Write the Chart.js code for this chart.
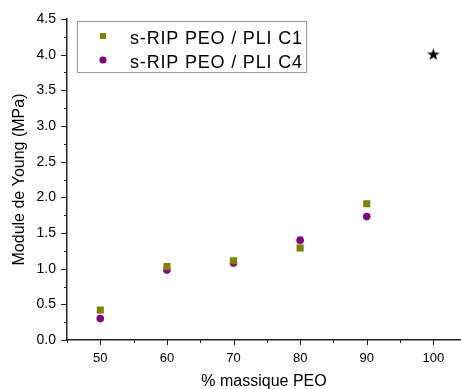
<!DOCTYPE html>
<html>
<head>
<meta charset="utf-8">
<script src="https://cdn.jsdelivr.net/npm/chart.js@4/dist/chart.umd.min.js"></script>
<style>
  html, body { margin: 0; padding: 0; background: #fff; }
  #wrap { width: 461px; height: 389px; }
</style>
</head>
<body>
<div id="wrap"><canvas id="graphique" width="461" height="389"></canvas></div>
<script>
// valeurs
const massiquePEO = [50, 60, 70, 80, 90];
const moduleC1 = [0.42, 1.03, 1.11, 1.29, 1.91];
const moduleC4 = [0.30, 0.98, 1.08, 1.40, 1.73];
const peoPurX = [100];
const peoPurY = [4.0];
const xTicks = [50, 60, 70, 80, 90, 100];
const yTicks = [0, 0.5, 1, 1.5, 2, 2.5, 3, 3.5, 4, 4.5];

const AXE = "#222";

function etoile(taille) {
    const c = document.createElement("canvas");
    c.width = taille;
    c.height = taille;
    const g = c.getContext("2d");
    const r1 = taille / 2, r2 = r1 * 0.4;
    g.beginPath();
    for (let i = 0; i < 10; i++) {
        const r = i % 2 ? r2 : r1;
        const a = -Math.PI / 2 + (i * Math.PI) / 5;
        g.lineTo(r1 + r * Math.cos(a), r1 + r * Math.sin(a));
    }
    g.closePath();
    g.fillStyle = "#000";
    g.fill();
    return c;
}

function pts(xs, ys) {
    return xs.map((x, i) => ({ x, y: ys[i] }));
}

// graduations majeures / mineures
const graduations = {
    id: "graduations",
    afterDraw(chart) {
        const { ctx, chartArea, scales } = chart;
        ctx.save();
        ctx.strokeStyle = AXE;
        ctx.lineWidth = 1;
        for (let v = 0; v <= 4.5 + 1e-9; v += 0.25) {
            const y = Math.round(scales.y.getPixelForValue(v)) + 0.5;
            const major = Math.abs(v * 2 - Math.round(v * 2)) < 1e-6;
            ctx.beginPath();
            ctx.moveTo(chartArea.left, y);
            ctx.lineTo(chartArea.left - (major ? 6 : 3), y);
            ctx.stroke();
        }
        for (let v = 45; v <= 104; v += 5) {
            const x = Math.round(scales.x.getPixelForValue(v)) + 0.5;
            const major = v % 10 === 0;
            ctx.beginPath();
            ctx.moveTo(x, chartArea.bottom);
            ctx.lineTo(x, chartArea.bottom + (major ? 5 : 3));
            ctx.stroke();
        }
        ctx.restore();
    },
};

// légende encadrée dans le graphique
const legende = {
    id: "legende",
    afterDraw(chart) {
        const { ctx } = chart;
        const ds = chart.data.datasets;
        ctx.save();
        ctx.strokeStyle = "#999";
        ctx.lineWidth = 1;
        ctx.strokeRect(77.5, 21.5, 229, 51);
        ctx.font = "18px 'Liberation Sans', Arial, sans-serif";
        ctx.fillStyle = "#000";
        ctx.textBaseline = "alphabetic";
        const lignes = [36, 60];
        [0, 1].forEach((i) => {
            const d = ds[i];
            const y = lignes[i];
            ctx.fillStyle = d.backgroundColor;
            if (d.pointStyle === "rect") {
                ctx.fillRect(100, y - 3, 6, 6);
            } else {
                ctx.beginPath();
                ctx.arc(103, y, 3.6, 0, Math.PI * 2);
                ctx.fill();
            }
            ctx.fillStyle = "#000";
            ctx.letterSpacing = "0px";
            const w = ctx.measureText(d.label).width;
            const esp = Math.max(0, (172 - w) / (d.label.length - 1));
            ctx.letterSpacing = esp.toFixed(2) + "px";
            ctx.fillText(d.label, 130, y + 7.5);
        });
        ctx.restore();
    },
};

new Chart(document.getElementById("graphique"), {
    type: "scatter",
    data: {
        datasets: [
            {
                label: "s-RIP PEO / PLI C1",
                data: pts(massiquePEO, moduleC1),
                pointStyle: "rect",
                pointRadius: 5,
                backgroundColor: "#808000",
                borderColor: "#808000",
                borderWidth: 0,
            },
            {
                label: "s-RIP PEO / PLI C4",
                data: pts(massiquePEO, moduleC4),
                pointStyle: "circle",
                pointRadius: 3.8,
                backgroundColor: "#800080",
                borderColor: "#800080",
                borderWidth: 0,
            },
            {
                label: "PEO",
                data: pts(peoPurX, peoPurY),
                pointStyle: etoile(13),
                backgroundColor: "#000",
            },
        ],
    },
    options: {
        responsive: false,
        animation: false,
        layout: { autoPadding: false, padding: { top: 19, right: 0, left: 0, bottom: 0 } },
        plugins: {
            legend: { display: false },
            tooltip: { enabled: false },
        },
        scales: {
            x: {
                type: "linear",
                min: 45,
                max: 104.15,
                afterFit: (s) => {
                    s.height = 49;
                    s.paddingLeft = 0;
                    s.paddingRight = 0;
                },
                afterBuildTicks: (s) => { s.ticks = xTicks.map((v) => ({ value: v })); },
                grid: { display: false, drawTicks: false },
                border: { display: true, color: AXE, width: 1.5 },
                ticks: {
                    padding: 11,
                    color: "#000",
                    font: { family: "'Liberation Sans', Arial, sans-serif", size: 13 },
                },
                title: {
                    display: true,
                    text: "% massique PEO",
                    color: "#000",
                    padding: { top: 4, bottom: -2 },
                    font: { family: "'Liberation Sans', Arial, sans-serif", size: 16 },
                },
            },
            y: {
                type: "linear",
                min: 0,
                max: 4.5,
                afterFit: (s) => {
                    s.width = 67;
                    s.paddingTop = 0;
                    s.paddingBottom = 0;
                },
                afterBuildTicks: (s) => { s.ticks = yTicks.map((v) => ({ value: v })); },
                grid: { display: false, drawTicks: false },
                border: { display: true, color: AXE, width: 1.5 },
                ticks: {
                    padding: 11,
                    color: "#000",
                    callback: (v) => v.toFixed(1),
                    font: { family: "'Liberation Sans', Arial, sans-serif", size: 14 },
                },
                title: {
                    display: true,
                    text: "Module de Young (MPa)",
                    color: "#000",
                    padding: { top: 10, bottom: 4 },
                    font: { family: "'Liberation Sans', Arial, sans-serif", size: 16 },
                },
            },
        },
    },
    plugins: [graduations, legende],
});
</script>
</body>
</html>
